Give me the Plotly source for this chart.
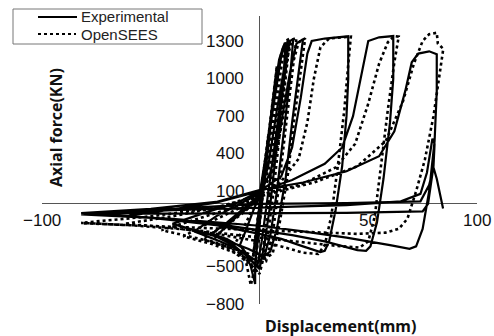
import plotly.graph_objects as go

# ---------------- data ----------------
exp_disp = [
    0, 2, 4, 2, 0, -2, -3, -1, 0,
    3, 6, 8, 6, 3, 0, -2, -2, -4, -7, -9,
    -6, -3, 0, 3, 6, 9, 11, 13,
    11, 8, 5, 2, 0, -3, -8, -15, -22,
    -15, -8, 0, 3, 7, 10, 12, 11, 8, 4, 1, -1, -5, -12, -20,
    -13, -6, 0, 4, 8, 12, 14, 15.5,
    14, 11, 8, 5, 2, -1, -8, -18, -30,
    -20, -10, 0, 5, 10, 14, 17, 20,
    18, 15, 12, 8, 5, 2, -5, -20, -40,
    -25, -10, 0, 10, 15, 19, 22, 24, 30, 40.8,
    40.8, 40, 38, 35, 32, 30, 28, 20, 10, 0, -20, -40, -60,
    -40, -20, 0, 15, 30, 38, 43, 47, 50, 55, 61.5,
    61.5, 60, 57, 54, 51, 49, 45, 30, 15, 0, -20, -50, -82,
    -50, -20, 0, 20, 40, 55, 62, 67, 70, 73, 78, 81.5,
    81.5, 80.5, 78, 75, 72, 69, 60, 40, 20, 0, -40, -82,
    -40, 0, 40, 65, 74, 77, 79.5, 80.5, 80, 77.5, 75, 40, 0, -40, -80,
    -40, 0, 40, 74, 78, 80, 81.5, 84.4,
]
exp_force = [
    0, 250, 520, 200, -80, -330, -420, -150, 0,
    380, 800, 1080, 760, 300, -150, -480, -640, -500, -380, -330,
    -200, -60, 60, 350, 800, 1150, 1260, 1290,
    950, 500, 0, -350, -520, -470, -350, -280, -240,
    -150, -50, 70, 400, 850, 1180, 1290, 1000, 600, 100, -300, -500, -430, -330, -260,
    -140, -40, 60, 300, 750, 1150, 1300, 1315,
    1000, 550, 100, -250, -430, -460, -380, -300, -220,
    -100, -10, 80, 250, 650, 1050, 1280, 1315,
    1050, 650, 200, -200, -380, -420, -360, -260, -160,
    -70, 10, 100, 220, 450, 850, 1200, 1300, 1320, 1338,
    1000, 700, 300, -50, -300, -375, -385, -340, -280, -240, -170, -130, -95,
    -45, 10, 100, 190, 320, 450, 700, 1050, 1300, 1330, 1340,
    1000, 650, 200, -150, -340, -375, -370, -300, -250, -210, -160, -110, -75,
    -40, 15, 110, 170, 260, 380, 580, 900, 1130, 1200, 1218, 1195,
    900, 500, 100, -200, -340, -360, -330, -270, -220, -175, -120, -85,
    -50, -30, -10, 20, 80, 250, 520, 480, 300, 0, -60, -72, -78, -78, -72,
    -40, 0, 5, 20, 150, 290, 200, -37,
]

sim_disp = [
    0, 2, 4, 2, 0, -2, -3, -1, 0,
    3, 6, 8, 6, 3, 0, -2, -4, -6, -9, -12,
    -8, -4, 0, 3, 7, 10, 12, 14,
    12, 9, 6, 3, 0, -4, -10, -18, -26,
    -16, -8, 0, 4, 8, 11, 13, 12, 9, 5, 2, -1, -5, -13, -22,
    -14, -6, 0, 5, 9, 13, 15, 17,
    15, 12, 9, 6, 3, -1, -10, -22, -35,
    -22, -10, 0, 6, 11, 15, 18, 21,
    19, 16, 13, 9, 6, 2, -8, -25, -45,
    -28, -12, 0, 10, 18, 22, 25, 28, 32, 42,
    41, 39, 36, 33, 30, 27, 20, 10, 0, -20, -40, -62,
    -40, -20, 0, 20, 35, 44, 50, 55, 59, 62, 64,
    62, 59, 56, 53, 50, 46, 35, 15, 0, -30, -60, -82,
    -50, -20, 0, 25, 45, 58, 66, 71, 75, 78, 81.5, 82, 84.5,
    83, 80, 76, 72, 68, 64, 58, 45, 30, 0, -40, -82,
]
sim_force = [
    0, 250, 540, 220, -60, -320, -430, -140, 0,
    380, 820, 1100, 780, 320, -170, -500, -650, -480, -380, -340,
    -220, -70, 50, 330, 850, 1200, 1300, 1320,
    1000, 520, 30, -350, -560, -480, -380, -320, -280,
    -170, -60, 50, 380, 850, 1200, 1310, 1050, 620, 120, -320, -540, -470, -370, -300,
    -160, -50, 55, 320, 780, 1180, 1310, 1325,
    1050, 600, 150, -250, -460, -480, -400, -320, -260,
    -140, -40, 60, 260, 700, 1100, 1290, 1322,
    1080, 680, 230, -180, -400, -440, -380, -290, -210,
    -120, -30, 70, 180, 360, 650, 1000, 1250, 1320, 1335,
    1150, 750, 300, -100, -330, -400, -390, -340, -300, -240, -190, -160,
    -100, -30, 70, 160, 290, 480, 800, 1120, 1290, 1340, 1335,
    1130, 750, 300, -100, -300, -350, -335, -300, -270, -210, -170, -152,
    -100, -30, 60, 170, 300, 500, 820, 1120, 1300, 1355, 1366, 1280, 1238,
    1050, 700, 350, 100, -120, -200, -230, -240, -230, -210, -180, -155,
]

y_tick_vals = [1300, 1000, 700, 400, 100, -500, -800]
x_tick_vals = [-100, 50, 100]

# ---------------- layout geometry (pixels) ----------------
W_IMG, H_IMG = 494, 336
L, R, T, B = 42, 17, 16, 32
PW, PH = W_IMG - L - R, H_IMG - T - B


def px2x(px):
    return (px - L) / PW


def py2y(py):
    return (T + PH - py) / PH


fig = go.Figure()
fig.add_trace(go.Scatter(
    x=exp_disp, y=exp_force, mode="lines", name="Experimental",
    line=dict(color="black", width=2.2), showlegend=False,
))
fig.add_trace(go.Scatter(
    x=sim_disp, y=sim_force, mode="lines", name="OpenSEES",
    line=dict(color="black", width=2.6, dash="dot"), showlegend=False,
))

tick_font = dict(family="Liberation Sans, Arial, sans-serif", size=17, color="#111")
title_font = dict(family="Noto Sans, Open Sans, sans-serif", size=16, color="#111")
annotations = []
for v in y_tick_vals:
    annotations.append(dict(
        x=0, y=v, xref="x", yref="y", text=str(v).replace("-", "\u2212"),
        xanchor="right", yanchor="middle", xshift=-14, showarrow=False, font=tick_font,
    ))
for v in x_tick_vals:
    annotations.append(dict(
        x=v, y=0, xref="x", yref="y", text=str(v).replace("-", "\u2212"),
        xanchor="center", yanchor="top", yshift=-5, showarrow=False, font=tick_font,
    ))

annotations.append(dict(
    x=px2x(56), y=py2y(128), xref="paper", yref="paper", text="<b>Axial force(KN)</b>",
    textangle=-90, showarrow=False, xanchor="center", yanchor="middle", font=title_font,
))
annotations.append(dict(
    x=px2x(340), y=py2y(326), xref="paper", yref="paper", text="<b>Displacement(mm)</b>",
    showarrow=False, xanchor="center", yanchor="middle", font=title_font,
))

# legend (drawn manually to match the boxed legend of the reference)
leg_font = dict(family="Liberation Sans, Arial, sans-serif", size=15, color="#222")
shapes = [
    dict(type="rect", xref="paper", yref="paper", x0=px2x(13), x1=px2x(202),
         y0=py2y(44), y1=py2y(9), line=dict(color="#777", width=1), fillcolor="white"),
    dict(type="line", xref="paper", yref="paper", x0=px2x(38), x1=px2x(77),
         y0=py2y(17), y1=py2y(17), line=dict(color="black", width=2)),
    dict(type="line", xref="paper", yref="paper", x0=px2x(38), x1=px2x(76),
         y0=py2y(34), y1=py2y(34), line=dict(color="black", width=2, dash="dot")),
]
annotations.append(dict(x=px2x(79), y=py2y(17), xref="paper", yref="paper", text="Experimental",
                        xanchor="left", yanchor="middle", showarrow=False, font=leg_font))
annotations.append(dict(x=px2x(79), y=py2y(34), xref="paper", yref="paper", text="OpenSEES",
                        xanchor="left", yanchor="middle", showarrow=False, font=leg_font))

fig.update_layout(
    width=W_IMG, height=H_IMG,
    margin=dict(l=L, r=R, t=T, b=B, pad=0),
    paper_bgcolor="white", plot_bgcolor="white",
    xaxis=dict(range=[-100, 100], showgrid=False, showticklabels=False, ticks="",
               zeroline=True, zerolinecolor="#555", zerolinewidth=1, showline=False, fixedrange=True),
    yaxis=dict(range=[-800, 1500], showgrid=False, showticklabels=False, ticks="",
               zeroline=True, zerolinecolor="#555", zerolinewidth=1, showline=False, fixedrange=True),
    annotations=annotations,
    shapes=shapes,
    showlegend=False,
)

fig.write_html("out.html", config={"displayModeBar": False})
